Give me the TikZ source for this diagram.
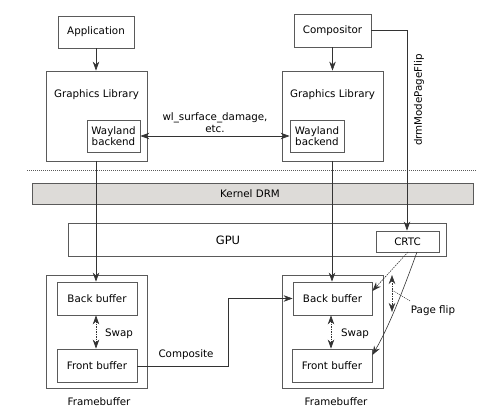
\documentclass[tikz,border=0pt]{standalone}
\usepackage{fontspec}
\setmainfont{DejaVu Sans}
\usetikzlibrary{arrows.meta,positioning,calc}
\definecolor{boxline}{RGB}{90,90,90}
\definecolor{drmfill}{RGB}{221,219,216}
\tikzset{
  box/.style={draw=boxline, line width=0.8pt, inner sep=0pt, align=center, font=\fontsize{10.3}{12}\selectfont},
  lbl/.style={inner sep=0pt, align=center, font=\fontsize{10.3}{12}\selectfont},
  conn/.style={draw=black!80, line width=0.6pt},
  tip/.style={-{Stealth[length=9pt,width=6.5pt]}},
  dtip/.style={{Stealth[length=9pt,width=6.5pt]}-{Stealth[length=9pt,width=6.5pt]}},
}
\begin{document}
\begin{tikzpicture}[x=1pt,y=-1pt]
\useasboundingbox (0,0) rectangle (501,417);
% top row
\node[box, minimum width=76, minimum height=32] (app) at (96,32) {Application};
\node[box, minimum width=77, minimum height=33] (comp) at (332.5,30.5) {Compositor};
% graphics libraries
\node[box, minimum width=101, minimum height=90] (gll) at (96.5,116) {};
\node[lbl] (gllt) at (96.5,95) {Graphics Library};
\node[box, minimum width=53, minimum height=32, font=\fontsize{10.3}{11.5}\selectfont] (wbl) at (113.5,136) {Wayland\\backend};
\node[box, minimum width=101, minimum height=90] (glr) at (332.5,116) {};
\node[lbl] (glrt) at (332.5,95) {Graphics Library};
\node[box, minimum width=54, minimum height=32, font=\fontsize{10.3}{11.5}\selectfont] (wbr) at (317,136) {Wayland\\backend};
% dotted separator
\coordinate (sepl) at (27,170);
\coordinate (sepr) at (477,170);
\draw[boxline, line width=0.6pt, dash pattern=on 1pt off 1pt] (sepl) -- (sepr);
% kernel DRM
\node[box, fill=drmfill, minimum width=441, minimum height=21] (drm) at (252.5,193.5) {};
\node[lbl] (drmt) at (250,193.5) {Kernel DRM};
% GPU
\node[box, minimum width=378, minimum height=33] (gpu) at (257,239.5) {};
\node[lbl, font=\fontsize{11.5}{13}\selectfont] (gput) at (228,240) {GPU};
\node[box, minimum width=63, minimum height=21] (crtc) at (407.5,241.5) {CRTC};
% framebuffers
\node[box, minimum width=101, minimum height=113] (fbl) at (96.5,331.5) {};
\node[box, minimum width=80, minimum height=33] (bbl) at (97,298.5) {Back buffer};
\node[box, minimum width=80, minimum height=33] (fbfl) at (97,365.5) {Front buffer};
\node[lbl] (fbtl) at (99,402) {Framebuffer};
\node[box, minimum width=101, minimum height=113] (fbr) at (332.5,331.5) {};
\node[box, minimum width=79, minimum height=33] (bbr) at (332.5,298.5) {Back buffer};
\node[box, minimum width=80, minimum height=33] (fbfr) at (332,365.5) {Front buffer};
\node[lbl] (fbtr) at (336,402) {Framebuffer};
% connectors
\draw[conn, tip] (app.south) -- (gll.north -| app.south);
\draw[conn, tip] (comp.south) -- (glr.north -| comp.south);
\draw[conn, dtip] (wbl.east) -- node[lbl, above=3pt] (wll) {wl\_surface\_damage,\\etc.} (wbr.west);
\coordinate (cturn) at (407,30.5);
\draw[conn, tip] (comp.east) -- (cturn) -- (crtc.north -| cturn);
\node[lbl, rotate=90] (drmpf) at (419,100) {drmModePageFlip};
\coordinate (vl) at (96,161);
\coordinate (vr) at (332,161);
\draw[conn, tip] (vl) -- (bbl.north -| vl);
\draw[conn, tip] (vr) -- (bbr.north -| vr);
\coordinate (c1) at (228,366);
\coordinate (c2) at (228,298.5);
\draw[conn, tip] (fbfl.east |- c1) -- (c1) -- (c2) -- (bbr.west |- c2);
\node[lbl] (compl) at (186,355) {Composite};
\draw[conn, dtip, dash pattern=on 1.5pt off 1pt] (bbl.south -| 96,0) -- (fbfl.north -| 96,0);
\node[lbl] (swl) at (119,334) {Swap};
\draw[conn, dtip, dash pattern=on 1.5pt off 1pt] (bbr.south -| 331,0) -- (fbfr.north -| 331,0);
\node[lbl] (swr) at (355,334) {Swap};
% CRTC to buffers
\coordinate (cr1) at (408,252);
\coordinate (cr2) at (417,252);
\draw[conn, tip, dash pattern=on 1.5pt off 1pt] (cr1) -- (bbr.east |- 0,291);
\draw[conn, tip] (cr2) .. controls (405,285) and (390,325) .. (fbfr.east |- 0,355);
\coordinate (pf1) at (392,275);
\coordinate (pf2) at (392,312);
\draw[conn, dtip, dash pattern=on 1.5pt off 1pt] (pf1) -- (pf2);
\node[lbl] (pfl) at (433,311) {Page flip};
\coordinate (pfm) at (392,290);
\draw[conn, line width=0.5pt, dash pattern=on 1pt off 1pt] (pfm) -- (410,301);
\end{tikzpicture}
\end{document}
